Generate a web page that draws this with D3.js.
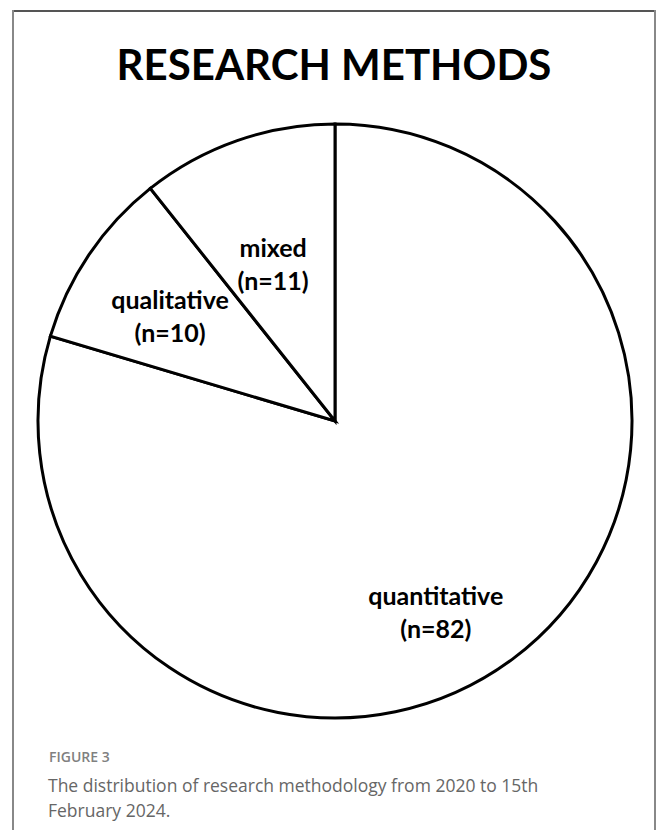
<!DOCTYPE html>
<html>
<head>
<meta charset="utf-8">
<script src="https://cdn.jsdelivr.net/npm/d3@7"></script>
<style>
  html, body { margin: 0; padding: 0; background: #fff; }
  svg { display: block; }
</style>
</head>
<body>
<script>
// Research method counts, in drawing order (clockwise from 12 o'clock)
const categories = ["quantitative", "qualitative", "mixed"];
const counts = [82, 10, 11];
const titleText = "RESEARCH METHODS";
const figureLabel = "FIGURE 3";
const captionLines = [
  "The distribution of research methodology from 2020 to 15th",
  "February 2024."
];

const W = 657, H = 830;
const cx = 335, cy = 421, R = 297;
// label nudges from each slice centroid
const labelNudge = [[12, 81], [-42, -13], [-13, -8]];

const svg = d3.select("body").append("svg")
  .attr("width", W).attr("height", H);

// panel frame (open at the bottom)
svg.append("line").attr("x1", 13).attr("y1", 11).attr("x2", 655).attr("y2", 11)
  .attr("stroke", "#555").attr("stroke-width", 2);
svg.append("line").attr("x1", 13).attr("y1", 10).attr("x2", 13).attr("y2", H)
  .attr("stroke", "#888").attr("stroke-width", 2);
svg.append("line").attr("x1", 655).attr("y1", 10).attr("x2", 655).attr("y2", H)
  .attr("stroke", "#888").attr("stroke-width", 2);

// title
svg.append("text")
  .attr("x", 334).attr("y", 80)
  .attr("text-anchor", "middle")
  .attr("font-family", "Lato, 'Open Sans', sans-serif")
  .attr("font-weight", 700)
  .attr("font-size", 42)
  .attr("fill", "#000")
  .text(titleText);

// pie
const data = categories.map((c, i) => ({ name: c, value: counts[i], idx: i }));
const pie = d3.pie().sort(null).value(d => d.value).startAngle(0).endAngle(2 * Math.PI);
const arcs = pie(data);
const arc = d3.arc().innerRadius(0).outerRadius(R);

const g = svg.append("g").attr("transform", `translate(${cx},${cy})`);
g.selectAll("path.slice").data(arcs).join("path")
  .attr("class", "slice")
  .attr("d", arc)
  .attr("fill", "#fff")
  .attr("stroke", "#000")
  .attr("stroke-width", 3)
  .attr("stroke-linejoin", "miter");

// slice labels
const labels = g.selectAll("text.lbl").data(arcs).join("text")
  .attr("class", "lbl")
  .attr("text-anchor", "middle")
  .attr("font-family", "Lato, 'Open Sans', sans-serif")
  .attr("font-weight", 700)
  .attr("font-size", 25)
  .attr("fill", "#000")
  .attr("transform", d => {
    const [x, y] = arc.centroid(d);
    const n = labelNudge[d.data.idx];
    return `translate(${x + n[0]},${y + n[1]})`;
  });
labels.append("tspan").attr("x", 0).attr("y", -16).text(d => d.data.name);
labels.append("tspan").attr("x", 0).attr("y", 17).text(d => `(n=${d.data.value})`);

// caption
svg.append("text")
  .attr("x", 49).attr("y", 762)
  .attr("font-family", "'Open Sans', sans-serif")
  .attr("font-weight", 600)
  .attr("font-size", 14)
  .attr("fill", "#808080")
  .text(figureLabel);
svg.selectAll("text.cap").data(captionLines).join("text")
  .attr("class", "cap")
  .attr("x", 48)
  .attr("y", (d, i) => 792 + i * 25)
  .attr("font-family", "'Open Sans', sans-serif")
  .attr("font-size", 17.5)
  .attr("fill", "#666")
  .text(d => d);
</script>
</body>
</html>
